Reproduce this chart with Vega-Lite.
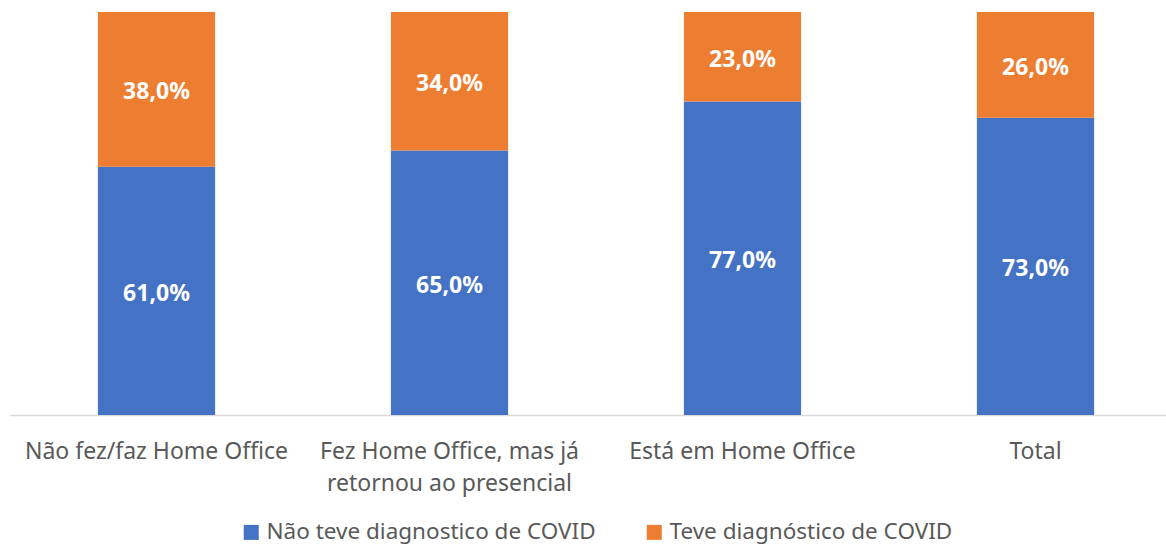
{
  "$schema": "https://vega.github.io/schema/vega-lite/v6.json",
  "width": 1172,
  "height": 403,
  "autosize": "none",
  "padding": {"left": 10, "top": 12, "right": 0, "bottom": 129},
  "data": {
    "values": [
      {"cat": "Não fez/faz Home Office", "serie": "Não teve diagnostico de COVID", "ord": 1, "valor": 0.61},
      {"cat": "Não fez/faz Home Office", "serie": "Teve diagnóstico de COVID", "ord": 2, "valor": 0.38},
      {"cat": "Fez Home Office, mas já|retornou ao presencial", "serie": "Não teve diagnostico de COVID", "ord": 1, "valor": 0.65},
      {"cat": "Fez Home Office, mas já|retornou ao presencial", "serie": "Teve diagnóstico de COVID", "ord": 2, "valor": 0.34},
      {"cat": "Está em Home Office", "serie": "Não teve diagnostico de COVID", "ord": 1, "valor": 0.77},
      {"cat": "Está em Home Office", "serie": "Teve diagnóstico de COVID", "ord": 2, "valor": 0.23},
      {"cat": "Total", "serie": "Não teve diagnostico de COVID", "ord": 1, "valor": 0.73},
      {"cat": "Total", "serie": "Teve diagnóstico de COVID", "ord": 2, "valor": 0.26}
    ]
  },
  "transform": [
    {"stack": "valor", "groupby": ["cat"], "sort": [{"field": "ord", "order": "ascending"}], "as": ["v0", "v1"]},
    {"calculate": "(min(datum.v0, 0.99) + min(datum.v1, 0.99)) / 2", "as": "mid"}
  ],
  "encoding": {
    "x": {
      "field": "cat",
      "type": "nominal",
      "sort": null,
      "scale": {"paddingInner": 0.6, "paddingOuter": 0.3},
      "axis": {
        "title": null,
        "labelAngle": 0,
        "ticks": false,
        "domainColor": "#d9d9d9",
        "domainWidth": 1.5,
        "labelColor": "#595959",
        "labelFont": "Noto Sans",
        "labelFontSize": 23,
        "labelPadding": 25,
        "labelLineHeight": 32,
        "labelLimit": 0,
        "labelExpr": "split(datum.label, '|')"
      }
    }
  },
  "layer": [
    {
      "mark": {"type": "bar", "clip": true},
      "encoding": {
        "y": {"field": "v0", "type": "quantitative", "scale": {"domain": [0, 0.99]}, "axis": null},
        "y2": {"field": "v1"},
        "color": {
          "field": "serie",
          "type": "nominal",
          "scale": {"domain": ["Não teve diagnostico de COVID", "Teve diagnóstico de COVID"], "range": ["#4472C4", "#ED7D31"]},
          "legend": {
            "title": null,
            "orient": "none",
            "legendX": 230,
            "legendY": 509,
            "direction": "horizontal",
            "symbolType": "square",
            "symbolSize": 225,
            "symbolStrokeWidth": 0,
            "labelFont": "Noto Sans",
            "labelFontSize": 22.5,
            "labelColor": "#595959",
            "labelLimit": 0,
            "labelOffset": 4,
            "columnPadding": 47
          }
        }
      }
    },
    {
      "mark": {"type": "text", "color": "white", "font": "Noto Sans", "fontSize": 23, "fontWeight": "bold", "baseline": "middle", "dy": 3},
      "encoding": {
        "y": {"field": "mid", "type": "quantitative", "scale": {"domain": [0, 0.99]}, "axis": null},
        "text": {"field": "valor", "type": "quantitative", "format": ".1%"}
      }
    }
  ],
  "config": {
    "view": {"stroke": null},
    "locale": {"number": {"decimal": ",", "thousands": ".", "grouping": [3], "currency": ["R$", ""], "percent": "%"}}
  }
}
